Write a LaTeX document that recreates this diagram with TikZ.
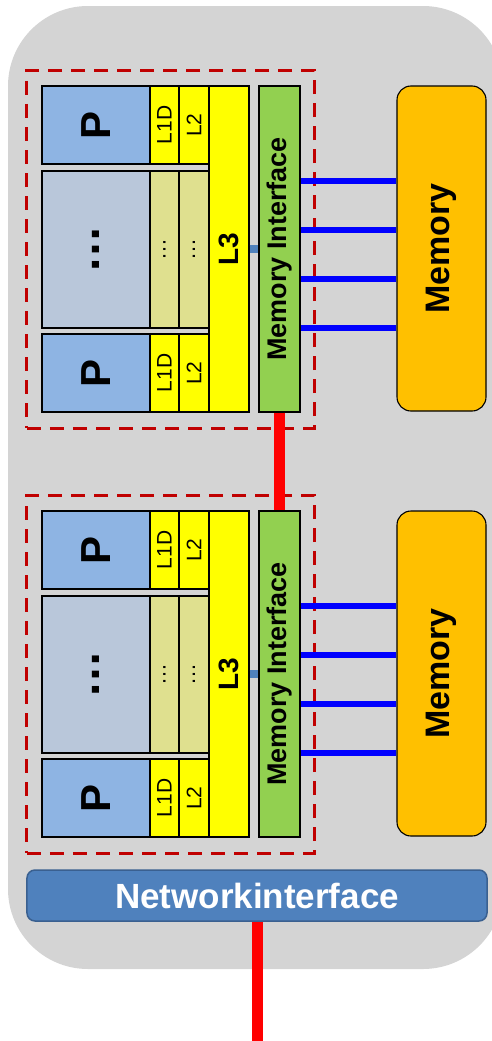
\documentclass[tikz,border=0pt]{standalone}
\usepackage{fontspec}
\setmainfont{Liberation Sans}
\definecolor{bggray}{HTML}{D4D4D4}
\definecolor{pblue}{HTML}{8EB4E3}
\definecolor{pgray}{HTML}{B9C7DA}
\definecolor{cyellow}{HTML}{FFFF00}
\definecolor{ckhaki}{HTML}{DFE08F}
\definecolor{migreen}{HTML}{92D050}
\definecolor{memorange}{HTML}{FFC000}
\definecolor{netblue}{HTML}{4F81BD}
\definecolor{netborder}{HTML}{3A6090}
\definecolor{dashred}{HTML}{C00000}
\definecolor{busred}{HTML}{FF0000}
\definecolor{busblue}{HTML}{0000FF}
\newcommand{\fs}[1]{\fontsize{#1bp}{#1bp}\selectfont}
\begin{document}
\begin{tikzpicture}[x=1bp,y=-1bp,
  cell/.style={draw=black, line width=1.1bp, inner sep=0pt, rotate=90},
  pbox/.style={cell, fill=pblue, font=\bfseries\fs{42}, minimum width=78bp, minimum height=108bp},
  dotsbox/.style={cell, fill=pgray, font=\bfseries\fs{48}, minimum width=157bp, minimum height=108bp},
  cachebox/.style={cell, fill=cyellow, font=\fs{21}, minimum width=78bp},
  cachedots/.style={cell, fill=ckhaki, font=\fs{22}, minimum width=157bp},
  lthree/.style={cell, fill=cyellow, font=\bfseries\fs{28}, minimum width=326bp, minimum height=40bp},
  membif/.style={cell, fill=migreen, font=\bfseries\fs{27}, minimum width=326bp, minimum height=41bp},
  membox/.style={cell, fill=memorange, rounded corners=14bp, font=\bfseries\fs{34}, minimum width=325bp, minimum height=89bp},
  socket/.style={draw=dashred, line width=3bp, dash pattern=on 14bp off 9bp, inner sep=0pt, minimum width=287bp, minimum height=358bp},
  l3link/.style={draw=netblue, line width=8bp},
  membus/.style={draw=busblue, line width=6.5bp},
  redbus/.style={draw=busred, line width=11bp},
  netbox/.style={draw=netborder, line width=1.5bp, fill=netblue, rounded corners=8bp, text=white, font=\bfseries\fs{35}, minimum width=460bp, minimum height=51bp, inner sep=0pt}
]
\useasboundingbox (0,0) rectangle (492,1041);
\fill[bggray, rounded corners=80bp] (8,6) rectangle (503,969);

\foreach \o/\s in {0/a,425/b}{
  \node[socket] (sock\s) at (170.5,249+\o) {};
  \node[pbox] (ptop\s) at (96,125+\o) {P};
  \node[dotsbox] (pmid\s) at (96,249.5+\o) {…};
  \node[pbox] (pbot\s) at (96,373+\o) {P};
  \node[cachebox, minimum height=29bp] (lodtop\s) at (164.5,125+\o) {L1D};
  \node[cachedots, minimum height=29bp] (lodmid\s) at (164.5,249.5+\o) {…};
  \node[cachebox, minimum height=29bp] (lodbot\s) at (164.5,373+\o) {L1D};
  \node[cachebox, minimum height=30bp] (ltwotop\s) at (194,125+\o) {L2};
  \node[cachedots, minimum height=30bp] (ltwomid\s) at (194,249.5+\o) {…};
  \node[cachebox, minimum height=30bp] (ltwobot\s) at (194,373+\o) {L2};
  \node[lthree] (lthree\s) at (229,249+\o) {L3};
  \node[membif] (mi\s) at (279.5,249+\o) {Memory Interface};
  \node[membox] (mem\s) at (441.5,248.5+\o) {Memory};
  \draw[l3link] (lthree\s.south) -- (mi\s.north);
  \foreach \y in {181,230,279,328}{
    \draw[membus] (mi\s.south |- 0,\y+\o) -- (mem\s.north |- 0,\y+\o);
  }
}
\node[netbox] (net) at (257,895.5) {Networkinterface};
\coordinate (netend) at (257,1041);
\draw[redbus] (mia.west) -- (mib.east);
\draw[redbus] (net.south) -- (netend);
\end{tikzpicture}
\end{document}
